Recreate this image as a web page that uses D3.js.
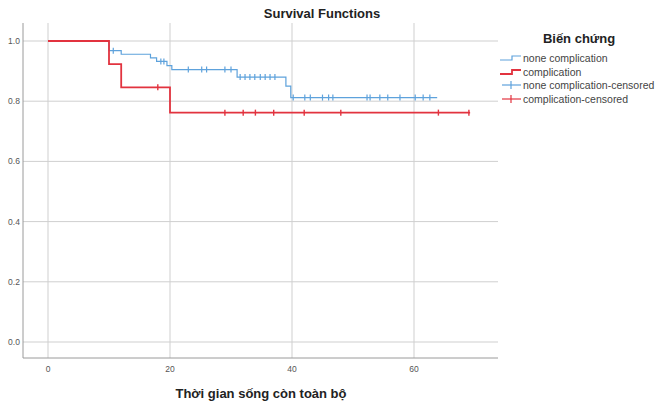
<!DOCTYPE html>
<html><head><meta charset="utf-8">
<script src="https://cdn.jsdelivr.net/npm/d3@7"></script>
<style>body{margin:0;background:#fff}svg{display:block}</style>
</head><body>
<div id="chart"></div>
<script>
const xTicks = [0, 20, 40, 60];
const yTicks = [0.0, 0.2, 0.4, 0.6, 0.8, 1.0];
const seriesNames = ["none complication", "complication"];
const legendLabels = ["none complication", "complication", "none complication-censored", "complication-censored"];
// step functions: [time, survival after time]
const noneSteps = [[0,1.0],[10,0.968],[12,0.956],[16.8,0.944],[17.8,0.932],[19.5,0.918],[20.3,0.905],[31,0.880],[39,0.850],[39.8,0.812],[63.8,0.812]];
const compSteps = [[0,1.0],[10,0.923],[12,0.846],[20,0.762],[69.2,0.762]];
const noneCensored = [[10.7,0.968],[18.5,0.932],[19,0.932],[23,0.905],[25.2,0.905],[26,0.905],[29,0.905],[30,0.905],
  [31.5,0.880],[32.3,0.880],[33.1,0.880],[33.9,0.880],[34.8,0.880],[35.6,0.880],[36.4,0.880],[37.2,0.880],
  [40.2,0.812],[42.1,0.812],[43,0.812],[45,0.812],[46,0.812],[46.7,0.812],[52.3,0.812],[52.8,0.812],[54.4,0.812],[55.7,0.812],[57.7,0.812],[60.2,0.812],[61.5,0.812],[62.6,0.812]];
const compCensored = [[18,0.846],[29,0.762],[32,0.762],[34,0.762],[37,0.762],[42,0.762],[48,0.762],[64,0.762],[69,0.762]];

const W = 656, H = 403;
const blue = "#5ea2dc", red = "#e2333f";
const svg = d3.select("#chart").append("svg").attr("width", W).attr("height", H)
  .style("font-family", "'Liberation Sans', Arial, sans-serif");

const x = d3.scaleLinear().domain([0, 60]).range([48, 414]);
const y = d3.scaleLinear().domain([0, 1]).range([342, 41]);
const plot = {l: 23, r: 498, t: 23, b: 358};

// gridlines
svg.append("g").selectAll("line").data(yTicks).join("line")
  .attr("x1", plot.l).attr("x2", plot.r).attr("y1", d => y(d)).attr("y2", d => y(d))
  .attr("stroke", "#cfcfcf").attr("stroke-width", 1);
svg.append("g").selectAll("line").data(xTicks).join("line")
  .attr("x1", d => x(d)).attr("x2", d => x(d)).attr("y1", plot.t).attr("y2", plot.b)
  .attr("stroke", "#cfcfcf").attr("stroke-width", 1);

// axes lines
svg.append("line").attr("x1", plot.l).attr("x2", plot.l).attr("y1", plot.t).attr("y2", plot.b).attr("stroke", "#9a9a9a");
svg.append("line").attr("x1", plot.l).attr("x2", plot.r).attr("y1", plot.b).attr("y2", plot.b).attr("stroke", "#9a9a9a");

// tick labels
svg.append("g").selectAll("text").data(yTicks).join("text")
  .attr("x", 14).attr("y", d => y(d) + 3).attr("text-anchor", "middle")
  .attr("font-size", 8.5).attr("fill", "#555").text(d => d.toFixed(1));
svg.append("g").selectAll("text").data(xTicks).join("text")
  .attr("x", d => x(d)).attr("y", 372).attr("text-anchor", "middle")
  .attr("font-size", 8.5).attr("fill", "#555").text(d => d);

// titles
svg.append("text").attr("x", 322).attr("y", 18).attr("text-anchor", "middle")
  .attr("font-size", 13).attr("font-weight", "bold").attr("fill", "#222").text("Survival Functions");
svg.append("text").attr("x", 261).attr("y", 398).attr("text-anchor", "middle")
  .attr("font-size", 13).attr("font-weight", "bold").attr("fill", "#222").text("Thời gian sống còn toàn bộ");

// curves
const line = d3.line().x(d => x(d[0])).y(d => y(d[1])).curve(d3.curveStepAfter);
svg.append("path").attr("d", line(noneSteps)).attr("fill", "none").attr("stroke", blue).attr("stroke-width", 1.2);
svg.append("path").attr("d", line(compSteps)).attr("fill", "none").attr("stroke", red).attr("stroke-width", 1.8);

// censor marks
svg.append("g").selectAll("line").data(noneCensored).join("line")
  .attr("x1", d => x(d[0])).attr("x2", d => x(d[0])).attr("y1", d => y(d[1]) - 3).attr("y2", d => y(d[1]) + 3)
  .attr("stroke", blue).attr("stroke-width", 1.2);
svg.append("g").selectAll("line").data(compCensored).join("line")
  .attr("x1", d => x(d[0])).attr("x2", d => x(d[0])).attr("y1", d => y(d[1]) - 3).attr("y2", d => y(d[1]) + 3)
  .attr("stroke", red).attr("stroke-width", 1.4);

// legend
svg.append("text").attr("x", 579).attr("y", 43).attr("text-anchor", "middle")
  .attr("font-size", 13).attr("font-weight", "bold").attr("fill", "#222").text("Biến chứng");
const lg = svg.append("g");
const rows = [58, 72, 85, 99];
legendLabels.forEach((lab, i) => {
  const yy = rows[i];
  const col = i % 2 === 0 ? blue : red;
  const sw = i === 1 ? 1.8 : 1.2;
  if (i < 2) {
    lg.append("path").attr("d", `M500,${yy+2}H512V${yy-2}H521`).attr("fill", "none").attr("stroke", col).attr("stroke-width", sw);
  } else {
    lg.append("line").attr("x1", 502).attr("x2", 521).attr("y1", yy).attr("y2", yy).attr("stroke", col).attr("stroke-width", sw);
    lg.append("line").attr("x1", 511).attr("x2", 511).attr("y1", yy - 4).attr("y2", yy + 4).attr("stroke", col).attr("stroke-width", sw);
  }
  lg.append("text").attr("x", 523).attr("y", yy + 3.5).attr("font-size", 10.5).attr("fill", "#444").text(lab);
});
</script>
</body></html>
